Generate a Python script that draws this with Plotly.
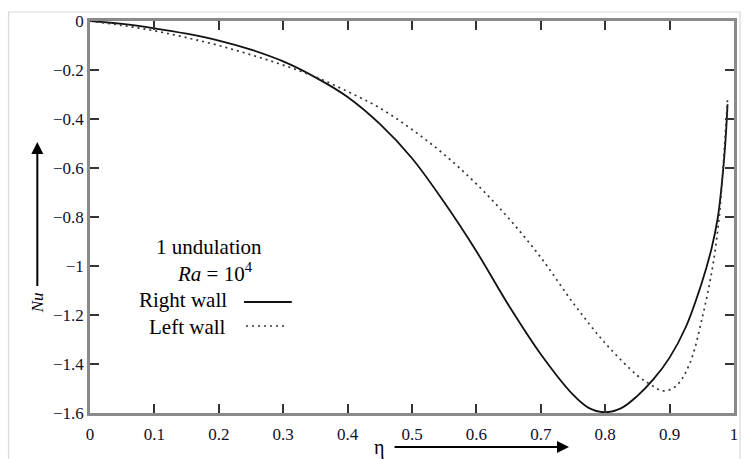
import plotly.graph_objects as go

# ---- data ----
eta_right = [0, 0.05, 0.1, 0.15, 0.2, 0.25, 0.3, 0.35, 0.4, 0.45, 0.5, 0.55, 0.6, 0.65,
             0.7, 0.75, 0.775, 0.8, 0.825, 0.85, 0.875, 0.9, 0.925, 0.95, 0.965, 0.975,
             0.982, 0.987, 0.99]
nu_right = [0, -0.012, -0.03, -0.052, -0.08, -0.117, -0.165, -0.23, -0.31, -0.42, -0.56,
            -0.74, -0.94, -1.16, -1.36, -1.525, -1.58, -1.597, -1.58, -1.53, -1.462,
            -1.374, -1.25, -1.068, -0.93, -0.80, -0.64, -0.48, -0.34]

eta_left = [0, 0.05, 0.1, 0.15, 0.2, 0.25, 0.3, 0.35, 0.4, 0.45, 0.5, 0.55, 0.6, 0.65,
            0.7, 0.75, 0.8, 0.85, 0.87, 0.89, 0.91, 0.931, 0.9516, 0.967, 0.977, 0.983,
            0.988, 0.99]
nu_left = [0, -0.018, -0.04, -0.068, -0.1, -0.138, -0.18, -0.228, -0.288, -0.355, -0.443,
           -0.545, -0.665, -0.805, -0.965, -1.15, -1.315, -1.447, -1.483, -1.51, -1.49,
           -1.4, -1.2, -1.0, -0.8, -0.6, -0.4, -0.32]

x_ticks = [0, 0.1, 0.2, 0.3, 0.4, 0.5, 0.6, 0.7, 0.8, 0.9, 1]
x_tick_text = ["0", "0.1", "0.2", "0.3", "0.4", "0.5", "0.6", "0.7", "0.8", "0.9", "1"]
y_ticks = [0, -0.2, -0.4, -0.6, -0.8, -1, -1.2, -1.4, -1.6]
y_tick_text = ["0", "\u22120.2", "\u22120.4", "\u22120.6", "\u22120.8", "\u22121",
               "\u22121.2", "\u22121.4", "\u22121.6"]

FONT = "Liberation Serif, Times New Roman, serif"
W, H = 745, 459
ML, MR, MT, MB = 90, 7, 21, 46
PW, PH = W - ML - MR, H - MT - MB


def px(x):
    return (x - ML) / PW


def py(y):
    return (H - MB - y) / PH


fig = go.Figure()
fig.add_trace(go.Scatter(x=eta_right, y=nu_right, mode="lines",
                         line=dict(color="#111111", width=1.8, shape="spline", smoothing=1),
                         name="Right wall", showlegend=False))
fig.add_trace(go.Scatter(x=eta_left, y=nu_left, mode="lines",
                         line=dict(color="#333333", width=1.7, dash="2px,4px",
                                   shape="spline", smoothing=1),
                         name="Left wall", showlegend=False))

axis_common = dict(showline=True, linecolor="#8a8a8a", linewidth=2.5, mirror="allticks",
                   ticks="inside", ticklen=9, tickwidth=1.6, tickcolor="#333333",
                   showgrid=False, zeroline=False,
                   tickfont=dict(family=FONT, size=17, color="#10102a"))

fig.update_xaxes(range=[0, 1], tickvals=x_ticks, ticktext=x_tick_text,
                 ticklabelstandoff=4, **axis_common)
fig.update_yaxes(range=[-1.6, 0], tickvals=y_ticks, ticktext=y_tick_text, **axis_common)

shapes = [
    # outer light frame
    dict(type="rect", xref="paper", yref="paper", x0=px(8), x1=px(744), y0=py(470), y1=py(12),
         line=dict(color="#d9d9d9", width=1.2), layer="below"),
    # legend samples
    dict(type="line", xref="paper", yref="paper", x0=px(245), x1=px(293), y0=py(302), y1=py(302),
         line=dict(color="#111111", width=1.8)),
    dict(type="line", xref="paper", yref="paper", x0=px(247), x1=px(289), y0=py(326), y1=py(326),
         line=dict(color="#333333", width=1.7, dash="2px,4px")),
]

annotations = [
    dict(text="1 undulation", x=px(210), y=py(247)),
    dict(text="<i>Ra</i> = 10<sup>4</sup>", x=px(216), y=py(272)),
    dict(text="Right wall", x=px(184), y=py(300)),
    dict(text="Left wall", x=px(188), y=py(327)),
]
annotations = [dict(a, xref="paper", yref="paper", showarrow=False, xanchor="center",
                    yanchor="middle", font=dict(family=FONT, size=21, color="#000000"))
               for a in annotations]

# axis titles with arrows (text sits at the tail of each arrow)
annotations.append(dict(text="<i>Nu</i>", x=px(37), y=py(142), xref="paper", yref="paper",
                        showarrow=True, ax=0, ay=161, textangle=-90,
                        arrowhead=2, arrowsize=1.2, arrowwidth=2, arrowcolor="#000000",
                        startstandoff=5,
                        font=dict(family=FONT, size=17, color="#000000")))
annotations.append(dict(text="\u03b7", x=px(572), y=py(447), xref="paper", yref="paper",
                        showarrow=True, ax=-190, ay=0,
                        arrowhead=2, arrowsize=1.2, arrowwidth=2, arrowcolor="#000000",
                        startstandoff=9,
                        font=dict(family=FONT, size=20, color="#000000")))

fig.update_layout(width=W, height=H, margin=dict(l=ML, r=MR, t=MT, b=MB),
                  paper_bgcolor="white", plot_bgcolor="white",
                  shapes=shapes, annotations=annotations, showlegend=False)

fig.write_html("out.html")
